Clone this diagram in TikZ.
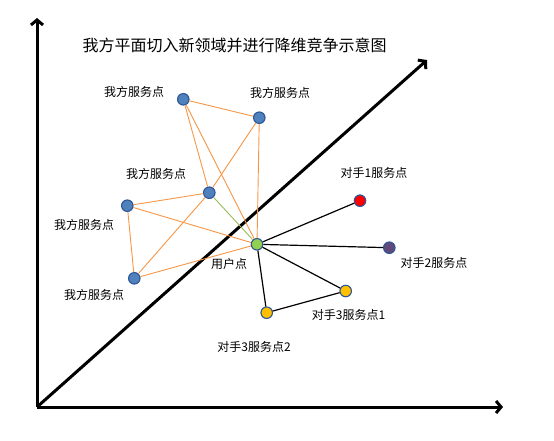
\documentclass[tikz,border=0pt]{standalone}
\usepackage{fontspec}
\setmainfont{Noto Sans CJK SC}
\usetikzlibrary{arrows.meta}
\definecolor{nblue}{HTML}{4F81BD}
\definecolor{nborder}{HTML}{2F5597}
\definecolor{ngreen}{HTML}{92D050}
\definecolor{nred}{HTML}{FF0000}
\definecolor{npurple}{HTML}{604A7B}
\definecolor{nyellow}{HTML}{FFC000}
\definecolor{eorange}{HTML}{F79646}
\definecolor{egreen}{HTML}{9BBB59}
\begin{document}
\begin{tikzpicture}[x=1pt,y=-1pt,
  pt/.style={circle,draw=nborder,line width=1.1pt,minimum size=11.5pt,inner sep=0pt},
  lbl/.style={font=\fontsize{12pt}{14pt}\selectfont,inner sep=0pt},
  axis/.style={line width=3pt,-{Straight Barb[length=5pt,width=12pt]}},
  oe/.style={eorange,line width=0.9pt},
  be/.style={black,line width=1.2pt}]
\useasboundingbox (0,0) rectangle (554,440);
\coordinate (O) at (37,407);
\coordinate (Ytip) at (37,18);
\coordinate (Xtip) at (503,407);
\coordinate (Dtip) at (427,60);
\draw[axis] (O) -- (Ytip);
\draw[axis] (O) -- (Xtip);
\draw[axis] (O) -- (Dtip);

\node[lbl,font=\fontsize{16pt}{18pt}\selectfont] (title) at (234.5,45) {我方平面切入新领域并进行降维竞争示意图};

% nodes
\node[pt,fill=nblue] (A) at (183.3,99.3) {};
\node[pt,fill=nblue] (B) at (259.3,117.7) {};
\node[pt,fill=nblue] (C) at (209.3,192.7) {};
\node[pt,fill=nblue] (D) at (127.3,205.7) {};
\node[pt,fill=nblue] (E) at (134.3,278.3) {};
\node[pt,fill=ngreen] (U) at (257,244.3) {};
\node[pt,fill=nred] (R1) at (360,200.7) {};
\node[pt,fill=npurple] (R2) at (389.3,247.7) {};
\node[pt,fill=nyellow] (Y1) at (345.7,291) {};
\node[pt,fill=nyellow] (Y2) at (266.7,312.7) {};

% edges
\draw[oe] (A) -- (B);
\draw[oe] (A) -- (C);
\draw[oe] (A) -- (U);
\draw[oe] (B) -- (C);
\draw[oe] (B) -- (U);
\draw[oe] (C) -- (E);
\draw[oe] (C) -- (D);
\draw[oe] (D) -- (E);
\draw[oe] (D) -- (U);
\draw[oe] (E) -- (U);
\draw[egreen,line width=0.9pt] (C) -- (U);
\draw[be] (U) -- (R1);
\draw[be] (U) -- (R2);
\draw[be] (U) -- (Y1);
\draw[be] (U) -- (Y2);
\draw[be] (Y1) -- (Y2);

% labels
\node[lbl] (lA) at (134,92) {我方服务点};
\node[lbl] (lB) at (280,93) {我方服务点};
\node[lbl] (lC) at (156,174) {我方服务点};
\node[lbl] (lD) at (84,225) {我方服务点};
\node[lbl] (lE) at (94,295) {我方服务点};
\node[lbl] (lU) at (229,264) {用户点};
\node[lbl] (lR1) at (374,173) {对手1服务点};
\node[lbl] (lR2) at (434,263) {对手2服务点};
\node[lbl] (lY1) at (348.5,315) {对手3服务点1};
\node[lbl] (lY2) at (254,347) {对手3服务点2};
\end{tikzpicture}
\end{document}
